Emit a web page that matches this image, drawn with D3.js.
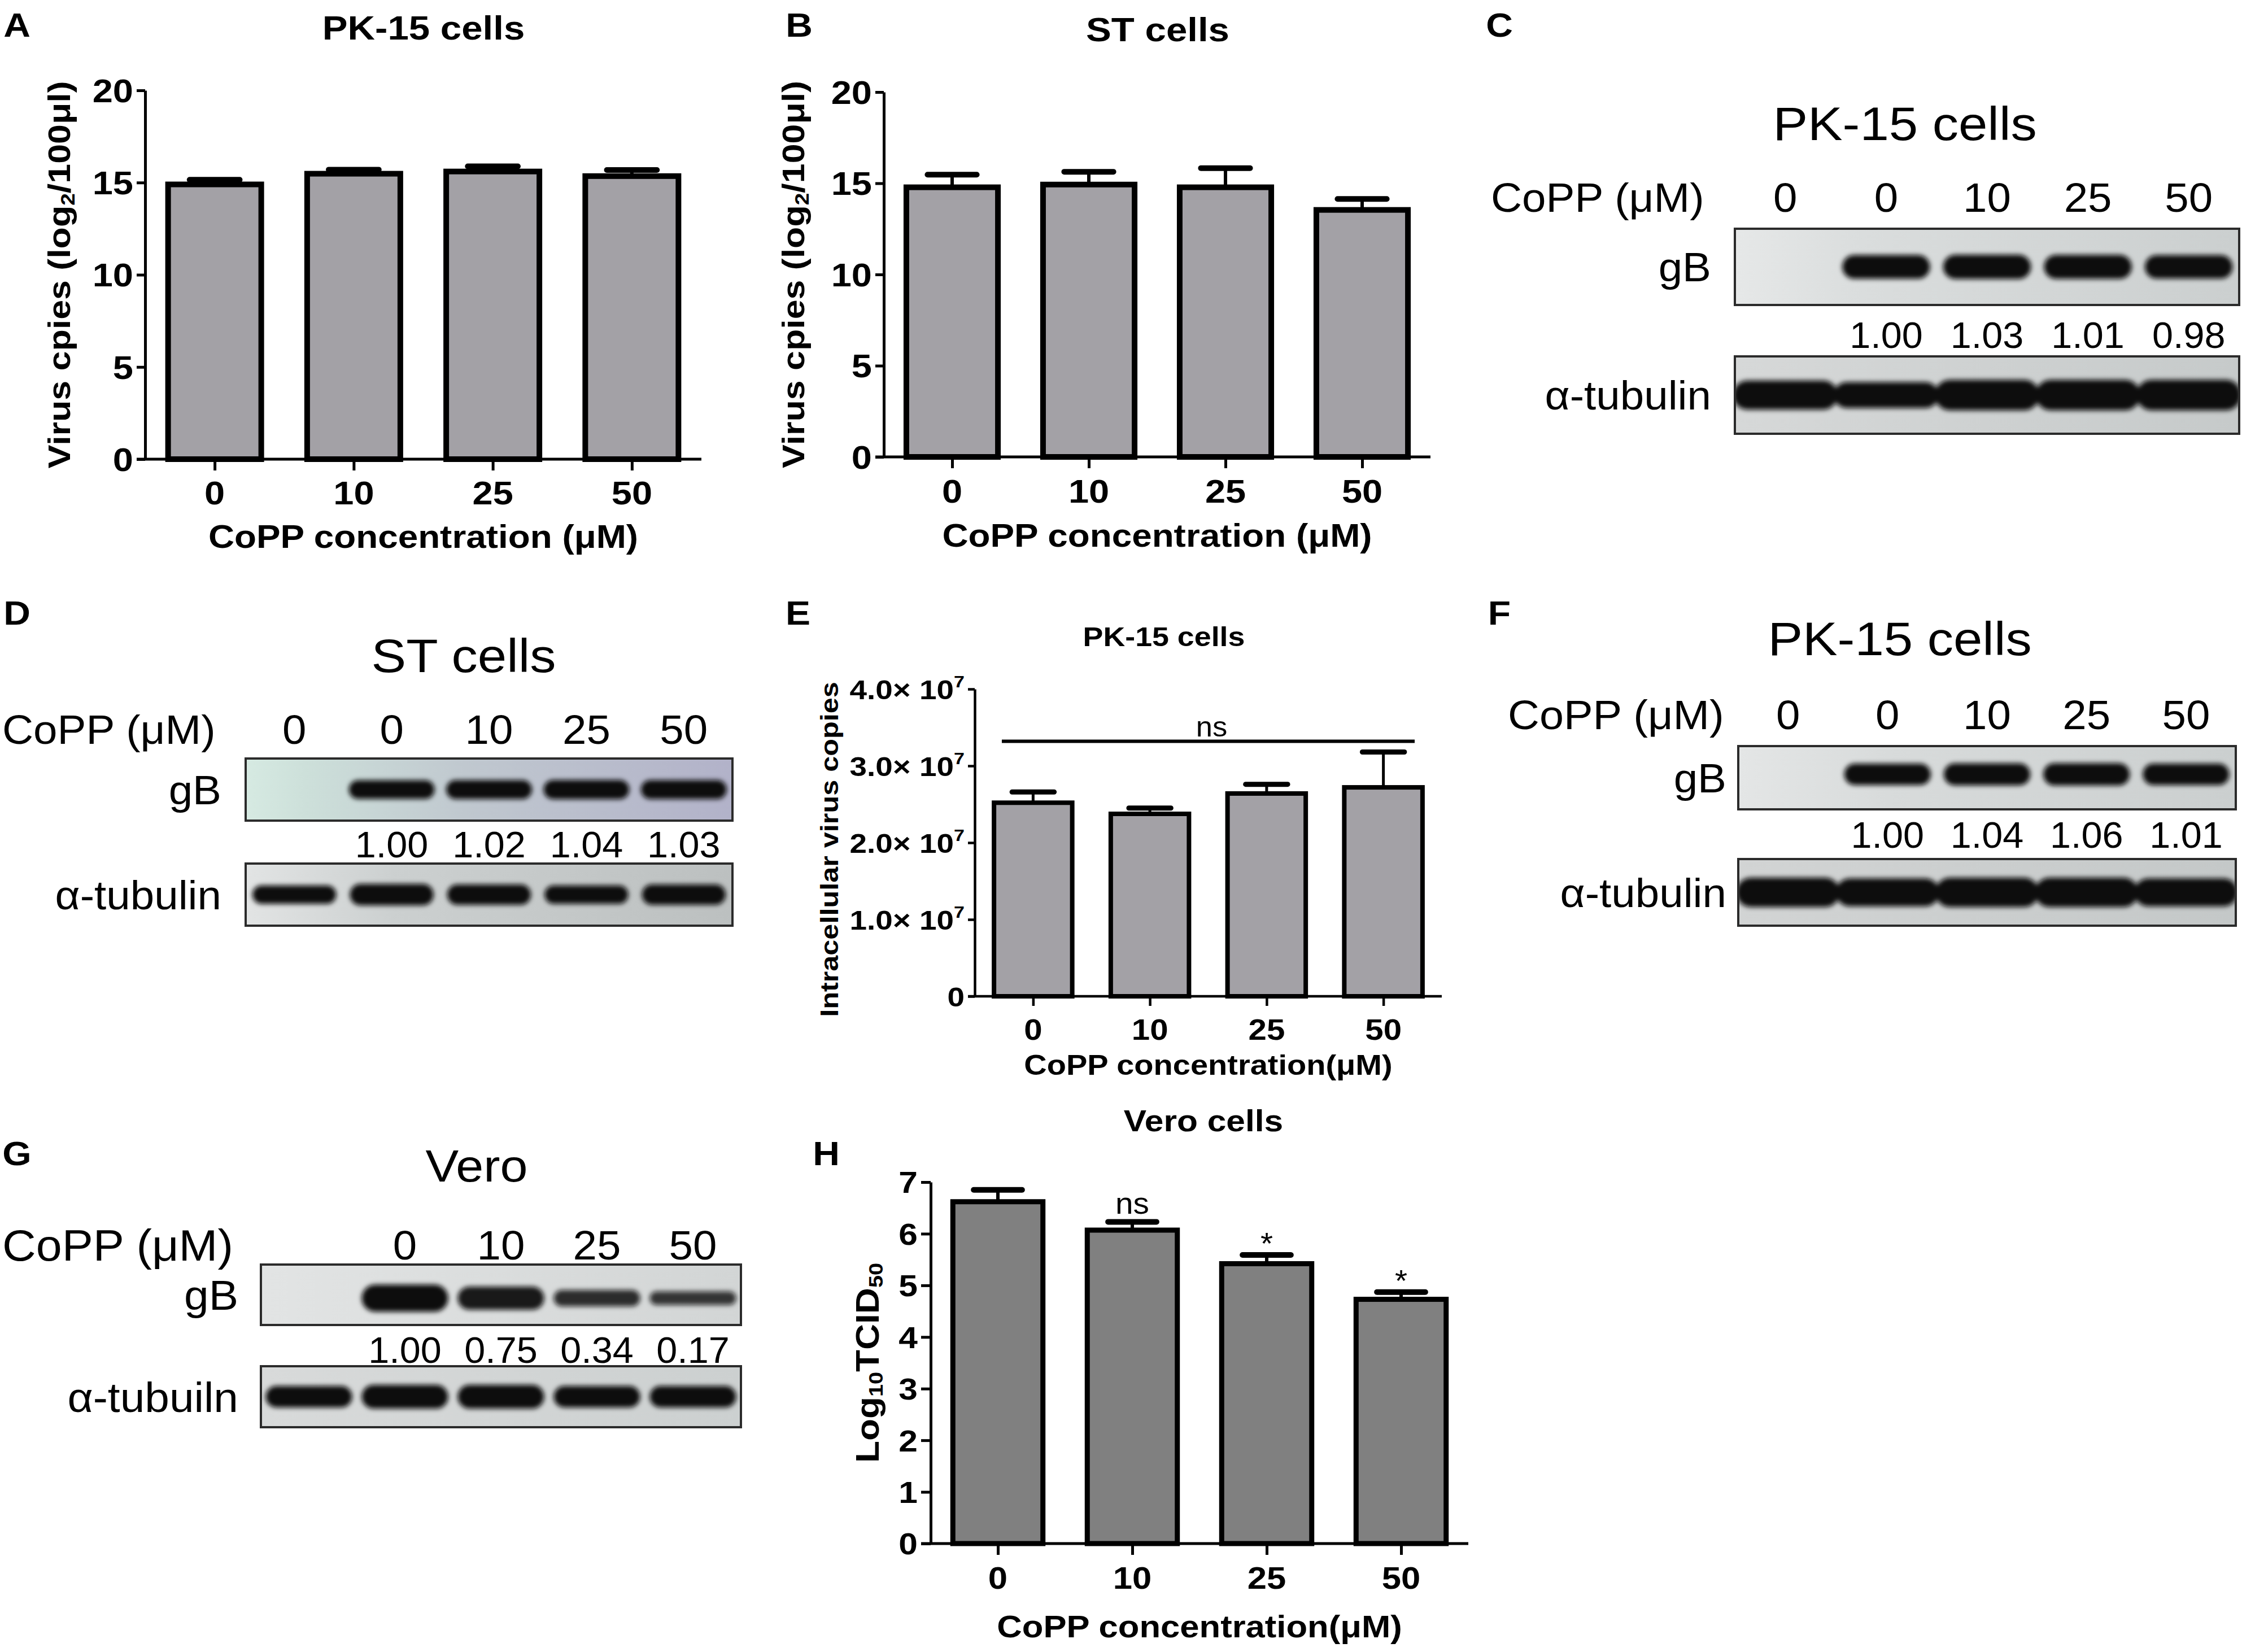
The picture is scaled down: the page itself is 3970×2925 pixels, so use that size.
<!DOCTYPE html>
<html>
<head>
<meta charset="utf-8">
<script src="https://cdn.jsdelivr.net/npm/d3@7"></script>
<style>
  body { margin: 0; background: #fff; }
  text { font-family: "Liberation Sans", Arial, sans-serif; fill: #000; }
</style>
</head>
<body>
<div id="my_dataviz"></div>
<script>
// ---- data ----
const concentrations = ["0", "10", "25", "50"];

// A: PK-15 virus copies (log2/100ul)
const pk15Copies = [14.90, 15.48, 15.60, 15.35];
const pk15CopiesErr = [0.25, 0.22, 0.28, 0.33];

// B: ST virus copies (log2/100ul)
const stCopies = [14.78, 14.93, 14.78, 13.54];
const stCopiesErr = [0.69, 0.70, 1.05, 0.60];

// E: intracellular virus copies, PK-15
const intraCopies = [2.52e7, 2.375e7, 2.64e7, 2.72e7];
const intraCopiesErr = [0.14e7, 0.075e7, 0.12e7, 0.46e7];
const intraNsLevel = 3.32e7;

// H: Vero Log10TCID50
const veroTcid = [6.62, 6.07, 5.42, 4.73];
const veroTcidErr = [0.23, 0.16, 0.17, 0.14];
const veroSig = ["", "ns", "*", "*"];

// blots: lane labels, gB quantification (null = no band), tubulin intensity estimate
const blotLanes = ["0", "0", "10", "25", "50"];
const veroLanes = ["", "0", "10", "25", "50"];
const gbPK15a = [null, 1.00, 1.03, 1.01, 0.98];
const gbST = [null, 1.00, 1.02, 1.04, 1.03];
const gbPK15b = [null, 1.00, 1.04, 1.06, 1.01];
const gbVero = [null, 1.00, 0.75, 0.34, 0.17];
const tubPK15a = [0.95, 0.85, 1.0, 1.0, 1.0];
const tubST = [0.85, 1.0, 0.95, 0.85, 0.95];
const tubPK15b = [1.0, 0.95, 1.0, 1.0, 0.95];
const tubVero = [0.9, 1.0, 1.0, 0.9, 0.9];

// ---- page ----
const W = 3970, H = 2925;
const svg = d3.select("#my_dataviz")
  .append("svg")
    .attr("width", W)
    .attr("height", H);

const defs = svg.append("defs");
defs.append("filter")
    .attr("id", "blur")
    .attr("x", "-20%").attr("y", "-150%")
    .attr("width", "140%").attr("height", "400%")
  .append("feGaussianBlur")
    .attr("stdDeviation", 4.5);

// text helper: position, optional rotation and horizontal stretch (the figure's type is a bit wide)
function label(g, str, x, y, o) {
  o = o || {};
  const t = g.append("text")
    .attr("transform", `translate(${x},${y}) rotate(${o.rotate || 0}) scale(${o.sx || 1},1)`)
    .attr("text-anchor", o.anchor || "middle")
    .attr("dy", o.dy || "0.36em")
    .style("font-size", (o.size || 50) + "px")
    .style("font-weight", o.weight || "normal");
  if (typeof str === "string") {
    t.text(str);
  } else {
    // array of [text, "sub"|"sup"|""]
    str.forEach(function (p) {
      const s = t.append("tspan").text(p[0]);
      if (p[1] === "sub") s.style("font-size", "0.62em").attr("baseline-shift", "-22%");
      if (p[1] === "sup") s.style("font-size", "0.62em").attr("baseline-shift", "70%");
    });
  }
  return t;
}

// panel letters
const panelLetters = [["A", 30, 43], ["B", 1415, 43], ["C", 2655, 43], ["D", 30, 1084],
  ["E", 1413, 1084], ["F", 2655, 1084], ["G", 30, 2041], ["H", 1463, 2041]];
panelLetters.forEach(function (p) {
  label(svg, p[0], p[1], p[2], {size: 60, weight: "bold", sx: 1.1});
});

// ---- bar chart panels ----
function barChart(c) {
  const g = svg.append("g");
  const x = d3.scalePoint().domain(concentrations).range([c.left, c.right]).padding(0.5);
  const y = d3.scaleLinear().domain(c.domain).range([c.bottom, c.top]);
  const step = x.step();
  const bw = step * 0.67;
  const capW = step * 0.36;

  // bars
  g.selectAll("rect.bar")
    .data(c.values)
    .join("rect")
      .attr("class", "bar")
      .attr("x", (d, i) => x(concentrations[i]) - bw / 2)
      .attr("y", d => y(d))
      .attr("width", bw)
      .attr("height", d => y(0) - y(d))
      .attr("fill", c.fill)
      .attr("stroke", "#000")
      .attr("stroke-width", c.barStroke);

  // error bars (upper only)
  g.selectAll("line.err")
    .data(c.values)
    .join("line")
      .attr("x1", (d, i) => x(concentrations[i]))
      .attr("x2", (d, i) => x(concentrations[i]))
      .attr("y1", d => y(d))
      .attr("y2", (d, i) => y(d + c.errs[i]))
      .attr("stroke", "#000")
      .attr("stroke-width", c.errStroke);
  g.selectAll("line.cap")
    .data(c.values)
    .join("line")
      .attr("x1", (d, i) => x(concentrations[i]) - capW / 2)
      .attr("x2", (d, i) => x(concentrations[i]) + capW / 2)
      .attr("y1", (d, i) => y(d + c.errs[i]))
      .attr("y2", (d, i) => y(d + c.errs[i]))
      .attr("stroke", "#000")
      .attr("stroke-width", c.capStroke)
      .attr("stroke-linecap", "round");

  // y axis
  const yAxis = g.append("g")
    .attr("transform", `translate(${c.left},0)`)
    .call(d3.axisLeft(y).tickValues(c.ticks).tickSize(c.tickLen).tickSizeOuter(0).tickFormat(""));
  yAxis.select(".domain").attr("stroke-width", c.axisStroke);
  yAxis.selectAll(".tick line").attr("stroke-width", c.axisStroke);
  c.ticks.forEach(function (t) {
    label(g, c.tickFormat(t), c.left - c.tickLen - 6, y(t),
      {anchor: "end", size: c.tickFs, weight: "bold", sx: 1.12});
  });

  // x axis
  const xAxis = g.append("g")
    .attr("transform", `translate(0,${c.bottom})`)
    .call(d3.axisBottom(x).tickSize(c.xTickLen).tickSizeOuter(0).tickFormat(""));
  xAxis.select(".domain").remove();
  xAxis.selectAll(".tick line").attr("stroke-width", c.axisStroke);
  g.append("line")
    .attr("x1", c.left - c.tickLen).attr("x2", c.right)
    .attr("y1", c.bottom).attr("y2", c.bottom)
    .attr("stroke", "#000").attr("stroke-width", c.axisStroke);
  concentrations.forEach(function (d) {
    label(g, d, x(d), c.bottom + c.xLabDy, {size: c.xLabFs, weight: "bold", sx: 1.12});
  });

  // titles
  label(g, c.xTitle, (c.left + c.right) / 2, c.bottom + c.xTitleDy, {size: c.xTitleFs, weight: "bold", sx: 1.12});
  label(g, c.yTitle, c.left - c.yTitleDx, (c.top + c.bottom) / 2 + (c.yTitleShift || 0),
    {size: c.yTitleFs, weight: "bold", sx: 1.12, rotate: -90});
  label(g, c.title, c.titleX, c.titleY, {size: c.titleFs, weight: "bold", sx: 1.12});

  return {g: g, x: x, y: y, bw: bw};
}

// A
barChart({
  left: 257, right: 1242, top: 160, bottom: 813,
  domain: [0, 20], ticks: [0, 5, 10, 15, 20], tickFormat: d3.format("d"),
  values: pk15Copies, errs: pk15CopiesErr, fill: "#a3a1a6",
  barStroke: 10, errStroke: 6, capStroke: 10, axisStroke: 5, tickLen: 15, xTickLen: 20,
  tickFs: 58, xLabFs: 58, xLabDy: 59,
  xTitle: "CoPP concentration (μM)", xTitleFs: 57, xTitleDy: 136,
  yTitle: [["Virus cpies (log", ""], ["2", "sub"], ["/100μl)", ""]], yTitleFs: 56, yTitleDx: 153,
  title: "PK-15 cells", titleX: 750, titleY: 48, titleFs: 60
});

// B
barChart({
  left: 1565, right: 2533, top: 163, bottom: 809,
  domain: [0, 20], ticks: [0, 5, 10, 15, 20], tickFormat: d3.format("d"),
  values: stCopies, errs: stCopiesErr, fill: "#a3a1a6",
  barStroke: 10, errStroke: 6, capStroke: 10, axisStroke: 5, tickLen: 15, xTickLen: 20,
  tickFs: 58, xLabFs: 58, xLabDy: 60,
  xTitle: "CoPP concentration (μM)", xTitleFs: 57, xTitleDy: 138,
  yTitle: [["Virus cpies (log", ""], ["2", "sub"], ["/100μl)", ""]], yTitleFs: 56, yTitleDx: 161,
  title: "ST cells", titleX: 2050, titleY: 51, titleFs: 60
});

// E
const panelE = barChart({
  left: 1726, right: 2553, top: 1220, bottom: 1764,
  domain: [0, 4e7], ticks: [0, 1e7, 2e7, 3e7, 4e7],
  tickFormat: d => d === 0 ? "0" : [[(d / 1e7).toFixed(1) + "× 10", ""], ["7", "sup"]],
  values: intraCopies, errs: intraCopiesErr, fill: "#a3a1a6",
  barStroke: 8, errStroke: 5, capStroke: 9, axisStroke: 4.5, tickLen: 12, xTickLen: 17,
  tickFs: 49, xLabFs: 52, xLabDy: 58,
  xTitle: "CoPP concentration(μM)", xTitleFs: 50, xTitleDy: 121,
  yTitle: "Intracellular virus copies", yTitleFs: 45, yTitleDx: 258, yTitleShift: 12,
  title: "PK-15 cells", titleX: 2061, titleY: 1127, titleFs: 48
});
// ns bracket over all bars
panelE.g.append("line")
  .attr("x1", panelE.x(concentrations[0]) - panelE.bw * 0.4)
  .attr("x2", panelE.x(concentrations[3]) + panelE.bw * 0.4)
  .attr("y1", panelE.y(intraNsLevel))
  .attr("y2", panelE.y(intraNsLevel))
  .attr("stroke", "#000").attr("stroke-width", 6);
label(panelE.g, "ns", (panelE.x(concentrations[0]) + panelE.x(concentrations[3])) / 2 + 6,
  panelE.y(intraNsLevel) - 26, {size: 50, sx: 1.05});

// H
const panelH = barChart({
  left: 1648, right: 2600, top: 2093, bottom: 2733,
  domain: [0, 7], ticks: d3.range(0, 8), tickFormat: d3.format("d"),
  values: veroTcid, errs: veroTcidErr, fill: "#808080",
  barStroke: 9, errStroke: 6, capStroke: 10, axisStroke: 5, tickLen: 17, xTickLen: 20,
  tickFs: 54, xLabFs: 55, xLabDy: 60,
  xTitle: "CoPP concentration(μM)", xTitleFs: 55, xTitleDy: 146,
  yTitle: [["Log", ""], ["10", "sub"], ["TCID", ""], ["50", "sub"]], yTitleFs: 57, yTitleDx: 113,
  title: "Vero cells", titleX: 2131, titleY: 1984, titleFs: 54
});
// significance marks
veroSig.forEach(function (s, i) {
  if (!s) return;
  const capY = panelH.y(veroTcid[i] + veroTcidErr[i]);
  const cx = panelH.x(concentrations[i]);
  if (s === "ns") label(panelH.g, s, cx, capY - 14, {size: 54, sx: 1.05, dy: "0"});
  else label(panelH.g, s, cx, capY - 2, {size: 54, sx: 1.05, dy: "0"});
});

// ---- western blot panels ----
function gradient(id, stops) {
  const lg = defs.append("linearGradient").attr("id", id)
    .attr("x1", "0%").attr("x2", "100%").attr("y1", "0%").attr("y2", "0%");
  stops.forEach(function (s) {
    lg.append("stop").attr("offset", s[0]).attr("stop-color", s[1]);
  });
}

function drawBlot(c) {
  const g = svg.append("g");
  const x = d3.scaleBand().domain(d3.range(c.lanes.length)).range([c.x0, c.x1]);
  const bw = x.bandwidth();

  label(g, c.title, c.titleX, c.titleY, {size: c.titleFs, sx: 1.1});
  label(g, "CoPP (μM)", c.coppX, c.laneY, {anchor: "start", size: c.coppFs, sx: 1.06});
  c.lanes.forEach(function (d, i) {
    if (d) label(g, d, x(i) + bw / 2, c.laneY, {size: c.laneFs, sx: 1.06});
  });

  gradient(c.id + "-gb", c.gbColors);
  gradient(c.id + "-tub", c.tubColors);

  // one strip (background, bands, frame)
  function strip(name, y0, y1, fill, bands) {
    const clipId = c.id + "-" + name + "-clip";
    defs.append("clipPath").attr("id", clipId)
      .append("rect").attr("x", c.x0).attr("y", y0).attr("width", c.x1 - c.x0).attr("height", y1 - y0);
    const s = g.append("g").attr("clip-path", `url(#${clipId})`);
    s.append("rect")
      .attr("x", c.x0).attr("y", y0).attr("width", c.x1 - c.x0).attr("height", y1 - y0)
      .attr("fill", `url(#${fill})`);
    s.append("g").attr("filter", "url(#blur)")
      .selectAll("rect")
      .data(bands)
      .join("rect")
        .attr("x", d => x(d.i) + bw / 2 - d.w / 2)
        .attr("y", d => (y0 + y1) / 2 + d.off - d.h / 2)
        .attr("width", d => d.w)
        .attr("height", d => d.h)
        .attr("rx", d => d.h / 2)
        .attr("fill", "#0a0a0a")
        .attr("opacity", d => d.o);
    g.append("rect")
      .attr("x", c.x0).attr("y", y0).attr("width", c.x1 - c.x0).attr("height", y1 - y0)
      .attr("fill", "none").attr("stroke", "#2b2b2b").attr("stroke-width", 4);
  }

  const gbBands = c.gb.map((v, i) => ({v: v, i: i})).filter(d => d.v != null)
    .map(d => ({i: d.i, w: bw * c.gbW, h: c.gbH * (0.4 + 0.6 * d.v), off: c.gbOff,
      o: 0.78 + 0.22 * Math.min(d.v, 1)}));
  strip("gb", c.gbBox[0], c.gbBox[1], c.id + "-gb", gbBands);

  const tubBands = c.tub.map((v, i) => ({i: i, w: bw * c.tubW, h: c.tubH * v, off: 0, o: 1}));
  strip("tub", c.tubBox[0], c.tubBox[1], c.id + "-tub", tubBands);

  label(g, "gB", c.labelRight, (c.gbBox[0] + c.gbBox[1]) / 2, {anchor: "end", size: c.rowFs, sx: 1.06});
  label(g, c.tubName, c.labelRight, (c.tubBox[0] + c.tubBox[1]) / 2, {anchor: "end", size: c.rowFs, sx: 1.06});

  c.gb.forEach(function (v, i) {
    if (v != null) label(g, v.toFixed(2), x(i) + bw / 2, c.valY, {size: c.valFs, sx: 1.04});
  });
}

// C
drawBlot({
  id: "c", lanes: blotLanes, gb: gbPK15a, tub: tubPK15a, tubName: "α-tubulin",
  title: "PK-15 cells", titleX: 3373, titleY: 218, titleFs: 84,
  coppX: 2640, laneY: 349, coppFs: 72, laneFs: 72,
  x0: 3072, x1: 3965, gbBox: [405, 540], tubBox: [631, 768],
  labelRight: 3030, rowFs: 72, valY: 593, valFs: 64,
  gbH: 42, gbW: 0.87, gbOff: 0, tubH: 54, tubW: 1.04,
  gbColors: [["0%", "#e6e8e8"], ["25%", "#dadddd"], ["100%", "#cbcfcf"]],
  tubColors: [["0%", "#d6d8d8"], ["100%", "#c6caca"]]
});

// D
drawBlot({
  id: "d", lanes: blotLanes, gb: gbST, tub: tubST, tubName: "α-tubulin",
  title: "ST cells", titleX: 821, titleY: 1160, titleFs: 84,
  coppX: 4, laneY: 1291, coppFs: 72, laneFs: 72,
  x0: 435, x1: 1297, gbBox: [1343, 1453], tubBox: [1529, 1639],
  labelRight: 392, rowFs: 72, valY: 1495, valFs: 64,
  gbH: 33, gbW: 0.88, gbOff: 0, tubH: 38, tubW: 0.86,
  gbColors: [["0%", "#d6eae2"], ["12%", "#cde0da"], ["45%", "#c0c8cf"], ["100%", "#b2b2c9"]],
  tubColors: [["0%", "#e2e4e4"], ["30%", "#ccd0d0"], ["100%", "#bcc0c0"]]
});

// F
drawBlot({
  id: "f", lanes: blotLanes, gb: gbPK15b, tub: tubPK15b, tubName: "α-tubulin",
  title: "PK-15 cells", titleX: 3364, titleY: 1130, titleFs: 84,
  coppX: 2670, laneY: 1265, coppFs: 73, laneFs: 72,
  x0: 3078, x1: 3959, gbBox: [1321, 1433], tubBox: [1521, 1639],
  labelRight: 3057, rowFs: 72, valY: 1478, valFs: 64,
  gbH: 38, gbW: 0.87, gbOff: -6, tubH: 52, tubW: 1.04,
  gbColors: [["0%", "#e4e6e6"], ["30%", "#d8dbdb"], ["100%", "#cbcfcf"]],
  tubColors: [["0%", "#d2d4d4"], ["100%", "#c4c8c8"]]
});

// G
drawBlot({
  id: "g", lanes: veroLanes, gb: gbVero, tub: tubVero, tubName: "α-tubuiln",
  title: "Vero", titleX: 844, titleY: 2063, titleFs: 80,
  coppX: 4, laneY: 2204, coppFs: 78, laneFs: 72,
  x0: 462, x1: 1312, gbBox: [2239, 2346], tubBox: [2419, 2527],
  labelRight: 422, rowFs: 74, valY: 2390, valFs: 64,
  gbH: 48, gbW: 0.9, gbOff: 6, tubH: 42, tubW: 0.9,
  gbColors: [["0%", "#e2e4e4"], ["100%", "#d2d5d5"]],
  tubColors: [["0%", "#d8dada"], ["100%", "#ccd0d0"]]
});
</script>
</body>
</html>
